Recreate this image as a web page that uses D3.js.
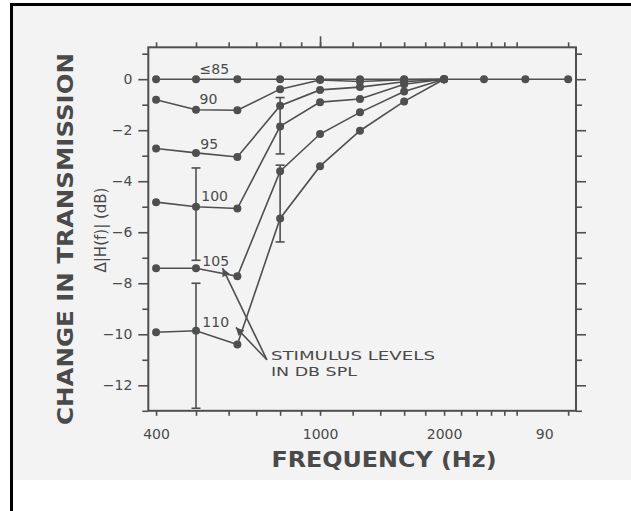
<!DOCTYPE html>
<html>
<head>
<meta charset="utf-8">
<script src="https://cdn.jsdelivr.net/npm/d3@7"></script>
<style>
  body { margin: 0; background: #fff; }
  svg { display: block; }
  text { font-family: "DejaVu Sans", sans-serif; fill: #4a4a4a; }
</style>
</head>
<body>
<div id="chart"></div>
<script>
// data
var freqs = [400, 500, 630, 800, 1000, 1250, 1600, 2000, 2500, 3150, 4000];
var levels = ["≤85", "90", "95", "100", "105", "110"];
var s85  = [0, 0, 0, 0, 0, 0, 0, 0, 0, 0, 0];
var s90  = [-0.81, -1.2, -1.22, -0.39, -0.03, -0.09, -0.02, 0];
var s95  = [-2.72, -2.89, -3.05, -1.04, -0.42, -0.31, -0.1, 0];
var s100 = [-4.82, -5.0, -5.07, -1.85, -0.9, -0.78, -0.2, 0];
var s105 = [-7.41, -7.41, -7.73, -3.61, -2.15, -1.3, -0.48, 0];
var s110 = [-9.92, -9.86, -10.4, -5.46, -3.41, -2.02, -0.87, 0];
var allSeries = [s85, s90, s95, s100, s105, s110];

// where each level label sits (freq, dB)
var labelFreq = [510, 510, 512, 515, 518, 518];
var labelVal  = [0.22, -0.97, -2.74, -4.76, -7.31, -9.7];

// error bars: freq, low, high
var errFreq = [500, 500, 800, 800];
var errLow  = [-7.1, -12.9, -2.93, -6.38];
var errHigh = [-3.48, -8.0, -0.72, -3.37];

// ticks
var yMajor = [-12, -10, -8, -6, -4, -2, 0];
var yMinor = [-13, -11, -9, -7, -5, -3, -1, 1];
var xTicks = [400, 500, 600, 700, 800, 900, 1000, 1200, 1400, 1600, 1800, 2000,
              2200, 2400, 2600, 2800, 3000, 4000];
var xLabelVals = [400, 1000, 2000, 3500];
var xLabelText = ["400", "1000", "2000", "90"];

// annotation arrows (freq, dB)
var arrowTail = [743, -11.0];
var arrowTips = [[580, -7.41], [625, -9.73]];

var W = 631, H = 511;
var ink = '#4f4f4f';

var svg = d3.select('#chart').append('svg').attr('width', W).attr('height', H);

// scanned page
svg.append('rect').attr('x', 13).attr('y', 6).attr('width', W - 13).attr('height', 474).attr('fill', '#f3f3f3');
svg.append('rect').attr('x', 10).attr('y', 3).attr('width', 3).attr('height', H - 3).attr('fill', '#000');
svg.append('rect').attr('x', 10).attr('y', 3).attr('width', W - 10).attr('height', 3).attr('fill', '#000');

var xScale = d3.scaleLog().domain([383, 4180]).range([148.3, 576]);
var yScale = d3.scaleLinear().domain([-13, 1.25]).range([410.8, 47.3]);

function styleAxis(g){
    g.select('.domain').remove();
    g.selectAll('line').attr('stroke', ink).attr('stroke-width', 1.6);
    g.selectAll('text').style('font-family', '"DejaVu Sans", sans-serif').attr('font-size', 14).attr('fill', '#4a4a4a');
}

// left axis
svg.append('g').attr('transform', 'translate(148.3,0)')
    .call(d3.axisLeft(yScale).tickValues(yMajor).tickSize(10).tickPadding(6).tickFormat(d3.format('d')))
    .call(styleAxis);
svg.append('g').attr('transform', 'translate(148.3,0)')
    .call(d3.axisLeft(yScale).tickValues(yMinor).tickSize(6).tickFormat(''))
    .call(styleAxis);
// right axis
svg.append('g').attr('transform', 'translate(576,0)')
    .call(d3.axisRight(yScale).tickValues(yMajor).tickSize(10).tickFormat(''))
    .call(styleAxis);
svg.append('g').attr('transform', 'translate(576,0)')
    .call(d3.axisRight(yScale).tickValues(yMinor).tickSize(6).tickFormat(''))
    .call(styleAxis);
// top axis
svg.append('g').attr('transform', 'translate(0,47.3)')
    .call(d3.axisTop(xScale).tickValues(xTicks).tickSize(5).tickFormat(''))
    .call(styleAxis);
svg.append('g').attr('transform', 'translate(0,47.3)')
    .call(d3.axisTop(xScale).tickValues([1000]).tickSize(11).tickFormat(''))
    .call(styleAxis);
// bottom axis
svg.append('g').attr('transform', 'translate(0,410.8)')
    .call(d3.axisBottom(xScale).tickValues(xTicks).tickSize(5).tickFormat(''))
    .call(styleAxis);
svg.append('g').attr('transform', 'translate(0,410.8)')
    .call(d3.axisBottom(xScale).tickValues(xLabelVals).tickSize(0).tickPadding(18)
        .tickFormat(function(d, i){ return xLabelText[i]; }))
    .call(styleAxis);

// frame
svg.append('rect').attr('x', 148.3).attr('y', 47.3).attr('width', 576 - 148.3).attr('height', 410.8 - 47.3)
    .attr('fill', 'none').attr('stroke', ink).attr('stroke-width', 2);

// error bars
errFreq.forEach(function(f, i){
    var cx = xScale(f);
    var g = svg.append('g').attr('stroke', ink).attr('stroke-width', 1.6);
    g.append('line').attr('x1', cx).attr('x2', cx).attr('y1', yScale(errLow[i])).attr('y2', yScale(errHigh[i]));
    [errLow[i], errHigh[i]].forEach(function(v){
        g.append('line').attr('x1', cx - 4.5).attr('x2', cx + 4.5).attr('y1', yScale(v)).attr('y2', yScale(v));
    });
});

// series
var line = d3.line()
    .x(function(d){ return xScale(d[0]); })
    .y(function(d){ return yScale(d[1]); });

allSeries.forEach(function(vals){
    var pts = vals.map(function(v, i){ return [freqs[i], v]; });
    svg.append('path').datum(pts).attr('d', line)
        .attr('fill', 'none').attr('stroke', ink).attr('stroke-width', 1.6);
    svg.append('g').selectAll('circle').data(pts).enter().append('circle')
        .attr('cx', function(d){ return xScale(d[0]); })
        .attr('cy', function(d){ return yScale(d[1]); })
        .attr('r', 4)
        .attr('fill', ink);
});

// level labels
levels.forEach(function(t, i){
    svg.append('text').attr('x', xScale(labelFreq[i])).attr('y', yScale(labelVal[i]))
        .attr('font-size', 14).text(t);
});

// arrows to the 105 and 110 curves
svg.append('defs').append('marker')
    .attr('id', 'head').attr('viewBox', '0 0 10 10').attr('refX', 10).attr('refY', 5)
    .attr('markerWidth', 9).attr('markerHeight', 8).attr('markerUnits', 'userSpaceOnUse')
    .attr('orient', 'auto')
    .append('path').attr('d', 'M0,0L10,5L0,10z').attr('fill', ink);
arrowTips.forEach(function(tip){
    svg.append('line')
        .attr('x1', xScale(arrowTail[0])).attr('y1', yScale(arrowTail[1]))
        .attr('x2', xScale(tip[0])).attr('y2', yScale(tip[1]))
        .attr('stroke', ink).attr('stroke-width', 1.6)
        .attr('marker-end', 'url(#head)');
});
svg.append('text').attr('x', xScale(760)).attr('y', yScale(-11.0))
    .attr('font-size', 13).attr('textLength', 164).attr('lengthAdjust', 'spacingAndGlyphs')
    .text('STIMULUS LEVELS');
svg.append('text').attr('x', xScale(760)).attr('y', yScale(-11.65))
    .attr('font-size', 13).attr('textLength', 86).attr('lengthAdjust', 'spacingAndGlyphs')
    .text('IN DB SPL');

// axis titles
svg.append('text').attr('transform', 'translate(73,239) rotate(-90)')
    .attr('text-anchor', 'middle').attr('font-size', 21).attr('font-weight', 'bold')
    .attr('textLength', 372).attr('lengthAdjust', 'spacingAndGlyphs')
    .text('CHANGE IN TRANSMISSION');
svg.append('text').attr('transform', 'translate(106,230) rotate(-90)')
    .attr('text-anchor', 'middle').attr('font-size', 15)
    .text('Δ|H(f)| (dB)');
svg.append('text').attr('x', 384).attr('y', 467)
    .attr('text-anchor', 'middle').attr('font-size', 21).attr('font-weight', 'bold')
    .attr('textLength', 225).attr('lengthAdjust', 'spacingAndGlyphs')
    .text('FREQUENCY (Hz)');
</script>
</body>
</html>
